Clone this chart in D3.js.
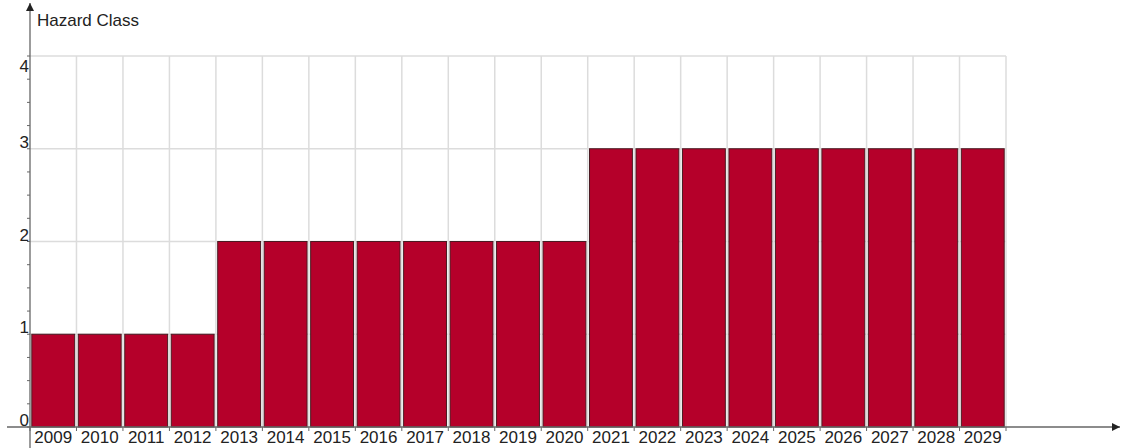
<!DOCTYPE html>
<html>
<head>
<meta charset="utf-8">
<script src="https://cdn.jsdelivr.net/npm/d3@7"></script>
<style>
  body { margin: 0; background: #fff; }
  svg { display: block; font-family: "Liberation Sans", Arial, sans-serif; }
</style>
</head>
<body>
<div id="chart"></div>
<script>
// data
const years = ['2009','2010','2011','2012','2013','2014','2015','2016','2017','2018','2019','2020',
               '2021','2022','2023','2024','2025','2026','2027','2028','2029'];
const hazardClass = [1,1,1,1,2,2,2,2,2,2,2,2,3,3,3,3,3,3,3,3,3];
const yTicks = [0,1,2,3,4];
const yLabel = 'Hazard Class';

const width = 1125, height = 448;

const svg = d3.select('#chart').append('svg')
  .attr('width', width)
  .attr('height', height);

const defs = svg.append('defs');
defs.append('marker')
  .attr('id', 'arrow')
  .attr('viewBox', '0 0 10 10')
  .attr('refX', 10).attr('refY', 5)
  .attr('markerWidth', 8).attr('markerHeight', 8)
  .attr('markerUnits', 'userSpaceOnUse')
  .attr('orient', 'auto')
  .append('path').attr('d', 'M0,0 L10,5 L0,10 Z').attr('fill', '#222');

// scales
const x = d3.scaleBand()
  .domain(years)
  .range([30, 1006])
  .paddingInner(0)
  .paddingOuter(0);

const y = d3.scaleLinear()
  .domain([0, 4])
  .range([427, 56]);

// grid
const grid = svg.append('g');
grid.selectAll('.hgrid')
  .data(yTicks.filter(d => d > 0))
  .enter().append('line')
  .attr('x1', 30).attr('x2', 1006)
  .attr('y1', d => y(d)).attr('y2', d => y(d))
  .attr('stroke', '#dcdcdc').attr('stroke-width', 1.5);

grid.selectAll('.vgrid')
  .data(years.slice(1).concat(['end']))
  .enter().append('line')
  .attr('x1', (d, i) => x(years[0]) + (i + 1) * x.bandwidth())
  .attr('x2', (d, i) => x(years[0]) + (i + 1) * x.bandwidth())
  .attr('y1', y(4)).attr('y2', y(0))
  .attr('stroke', '#dcdcdc').attr('stroke-width', 1.5);

// bars
const gap = 1.8;
svg.selectAll('.bar')
  .data(years)
  .enter().append('rect')
  .attr('class', 'bar')
  .attr('x', d => x(d) + gap)
  .attr('y', (d, i) => y(hazardClass[i]))
  .attr('width', x.bandwidth() - 2 * gap)
  .attr('height', (d, i) => y(0) - y(hazardClass[i]))
  .attr('fill', '#b5002a')
  .attr('stroke', '#4a1a22')
  .attr('stroke-width', 1);

// axes lines
svg.append('line')
  .attr('x1', 7).attr('x2', 1120)
  .attr('y1', y(0)).attr('y2', y(0))
  .attr('stroke', '#666').attr('stroke-width', 1.3)
  .attr('marker-end', 'url(#arrow)');

svg.append('line')
  .attr('x1', 30).attr('x2', 30)
  .attr('y1', height).attr('y2', 3)
  .attr('stroke', '#666').attr('stroke-width', 1.3)
  .attr('marker-end', 'url(#arrow)');

// y minor ticks
const minor = d3.range(0, 4.01, 0.25);
svg.selectAll('.ytick')
  .data(minor)
  .enter().append('line')
  .attr('x1', 27).attr('x2', 30)
  .attr('y1', d => y(d)).attr('y2', d => y(d))
  .attr('stroke', '#666').attr('stroke-width', 1);

// y labels
svg.selectAll('.ylabel')
  .data(yTicks)
  .enter().append('text')
  .attr('x', 29)
  .attr('y', d => d === 4 ? y(d) + 16 : y(d) - 1)
  .attr('text-anchor', 'end')
  .attr('font-size', 17)
  .attr('fill', '#222')
  .text(d => d);

// x ticks at band boundaries
svg.selectAll('.xtick')
  .data(years.concat(['end']))
  .enter().append('line')
  .attr('x1', (d, i) => x(years[0]) + i * x.bandwidth())
  .attr('x2', (d, i) => x(years[0]) + i * x.bandwidth())
  .attr('y1', y(0)).attr('y2', y(0) + 4)
  .attr('stroke', '#666').attr('stroke-width', 1);

// x labels
svg.selectAll('.xlabel')
  .data(years)
  .enter().append('text')
  .attr('x', d => x(d) + x.bandwidth() / 2)
  .attr('y', 443)
  .attr('text-anchor', 'middle')
  .attr('font-size', 17)
  .attr('fill', '#222')
  .text(d => d);

// axis title
svg.append('text')
  .attr('x', 37)
  .attr('y', 26)
  .attr('font-size', 17)
  .attr('fill', '#222')
  .text(yLabel);
</script>
</body>
</html>
